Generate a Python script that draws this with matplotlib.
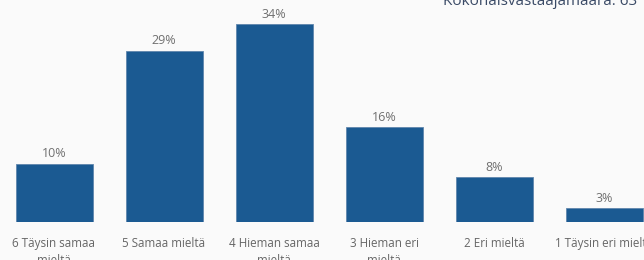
import matplotlib
matplotlib.use("Agg")
import matplotlib.pyplot as plt

categories = ["6 Täysin samaa\nmieltä", "5 Samaa mieltä", "4 Hieman samaa\nmieltä",
              "3 Hieman eri\nmieltä", "2 Eri mieltä", "1 Täysin eri mieltä"]
values = [9.97, 29.4, 34.0, 16.3, 7.7, 2.4]
labels = ["10%", "29%", "34%", "16%", "8%", "3%"]
title = "Kokonaisvastaajamäärä: 63"

bg = "#fafafa"
plt.rcParams['font.family'] = ['Open Sans', 'DejaVu Sans']
fig = plt.figure(figsize=(6.44, 2.60), dpi=100, facecolor=bg)
ax = fig.add_axes([-1/644, 38/260, 660/644, 232.8/260], facecolor=bg)
x = list(range(len(categories)))
ax.bar(x, values, width=0.7, color="#1b5a92", edgecolor="#5f86ad", linewidth=0.6)
for xi, v, l in zip(x, values, labels):
    ax.text(xi, v + 0.6, l, ha="center", va="bottom", fontsize=9, color="#707070")
ax.set_xlim(-0.5, 5.5)
ax.set_ylim(0, 40)
ax.set_xticks(x)
ax.set_xticklabels(categories, fontsize=8.4, color="#666666", linespacing=1.35)
ax.tick_params(axis="x", length=0, pad=11)
ax.set_yticks([])
for s in ax.spines.values():
    s.set_visible(False)
fig.text(443/644, 1 - 5/260, title, ha="left", va="baseline", fontsize=11, color="#3a4a66")
fig.savefig("out.png", dpi=100, facecolor=bg)
